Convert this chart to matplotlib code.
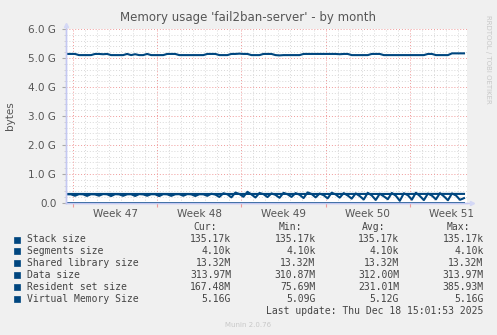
import numpy as np
import matplotlib
matplotlib.use("Agg")
from matplotlib import pyplot as plt
from matplotlib.patches import Rectangle

# time axis: days since Mon Nov 17 2025 (start of week 47)
week_labels = ["Week 47", "Week 48", "Week 49", "Week 50", "Week 51"]
week_starts = [0, 7, 14, 21, 28]

# resident set size in MB, one sample per 8 hours starting at day -0.5
rss_mb = [300, 298, 250, 305, 300, 245, 302, 296, 252, 308, 300, 240,
          304, 298, 248, 300, 302, 242, 306, 297, 251, 303, 300, 238,
          305, 299, 246, 301, 304, 250, 307, 298, 241, 302, 300, 247,
          320, 290, 210, 335, 300, 195, 360, 310, 215, 386, 295, 190,
          345, 305, 205, 330, 280, 180, 350, 300, 210, 340, 285, 170,
          365, 310, 195, 325, 270, 160, 355, 295, 185, 340, 260, 150,
          330, 240, 120, 350, 260, 105, 320, 230, 130, 345, 250, 76,
          335, 270, 115, 355, 240, 100, 325, 255, 125, 340, 230, 95,
          330, 260, 110, 168]

# virtual memory size in GB, same sampling
vms_gb = [5.14, 5.14, 5.14, 5.10, 5.10, 5.10, 5.10, 5.14, 5.14, 5.13, 5.14,
          5.10, 5.10, 5.10, 5.10, 5.14, 5.10, 5.13, 5.10, 5.10, 5.14, 5.10,
          5.10, 5.10, 5.10, 5.14, 5.14, 5.14, 5.10, 5.10, 5.10, 5.10, 5.10,
          5.10, 5.10, 5.14, 5.14, 5.14, 5.10, 5.10, 5.10, 5.14, 5.14, 5.15,
          5.14, 5.14, 5.10, 5.10, 5.10, 5.14, 5.14, 5.14, 5.10, 5.09, 5.10,
          5.10, 5.10, 5.10, 5.10, 5.14, 5.14, 5.14, 5.14, 5.14, 5.14, 5.14,
          5.14, 5.14, 5.13, 5.14, 5.14, 5.10, 5.10, 5.10, 5.10, 5.10, 5.14,
          5.14, 5.14, 5.10, 5.10, 5.10, 5.10, 5.10, 5.10, 5.10, 5.10, 5.10,
          5.10, 5.10, 5.14, 5.14, 5.10, 5.10, 5.10, 5.10, 5.16, 5.16, 5.16,
          5.16]

# data size in MB, one sample per day starting at day -0.5
data_mb = [312.5, 312.0, 311.5, 312.0, 312.5, 311.0, 311.5, 312.0, 312.5,
           311.8, 312.0, 311.2, 310.9, 311.5, 312.0, 312.3, 311.8, 312.0,
           312.6, 311.9, 312.1, 311.5, 312.2, 312.8, 313.0, 312.4, 311.6,
           312.0, 312.5, 313.2, 313.6, 313.9, 313.97, 313.97]

stack_size = 135.17e3
segments_size = 4.10e3
shared_lib = 13.32e6

legend_names = ["Stack size", "Segments size", "Shared library size",
                "Data size", "Resident set size", "Virtual Memory Size"]
cur_vals = ["135.17k", "4.10k", "13.32M", "313.97M", "167.48M", "5.16G"]
min_vals = ["135.17k", "4.10k", "13.32M", "310.87M", "75.69M", "5.09G"]
avg_vals = ["135.17k", "4.10k", "13.32M", "312.00M", "231.01M", "5.12G"]
max_vals = ["135.17k", "4.10k", "13.32M", "313.97M", "385.93M", "5.16G"]

y_ticks = [0, 1e9, 2e9, 3e9, 4e9, 5e9, 6e9]
y_labels = ["0.0", "1.0 G", "2.0 G", "3.0 G", "4.0 G", "5.0 G", "6.0 G"]

blue = "#00467f"
axis_col = "#c4c8f2"
txt_col = "#555555"
W, H = 497, 335

fig = plt.figure(figsize=(W / 100, H / 100), dpi=100, facecolor="#f0f0f0")
ax = fig.add_axes([66 / W, (H - 203) / H, (467 - 66) / W, (203 - 29) / H])
ax.set_facecolor("white")

x0, x1 = -0.58, 32.75
ax.set_xlim(x0, x1)
ax.set_ylim(0, 6e9)

# grid
for d in range(0, 33):
    if d in week_starts:
        continue
    ax.axvline(d, color="#d8d8d8", lw=0.7, ls=(0, (1, 2)), zorder=0)
for yv in np.arange(0.2e9, 6.0e9, 0.2e9):
    if abs(yv / 1e9 - round(yv / 1e9)) < 1e-6:
        continue
    ax.axhline(yv, color="#d8d8d8", lw=0.7, ls=(0, (1, 2)), zorder=0)
for d in week_starts:
    ax.axvline(d, color="#f09a9a", lw=0.7, ls=(0, (1, 2)), zorder=0.5)
for yv in y_ticks[1:]:
    ax.axhline(yv, color="#f09a9a", lw=0.7, ls=(0, (1, 2)), zorder=0.5)

# series
t8 = -0.5 + np.arange(len(rss_mb)) / 3.0
td = -0.5 + np.arange(len(data_mb))
tend = t8[-1]
ax.plot([-0.5, tend], [stack_size, stack_size], color=blue, lw=1.4, zorder=2)
ax.plot([-0.5, tend], [segments_size, segments_size], color=blue, lw=1.4, zorder=2)
ax.plot([-0.5, tend], [shared_lib, shared_lib], color=blue, lw=1.4, zorder=2)
ax.plot(td, np.array(data_mb) * 1e6, color=blue, lw=1.5, zorder=3)
ax.plot(t8, np.array(rss_mb) * 1e6, color=blue, lw=1.5, zorder=3)
ax.plot(t8, np.array(vms_gb) * 1e9, color=blue, lw=1.5, zorder=3)

# axes
for s in ["top", "right"]:
    ax.spines[s].set_visible(False)
for s in ["left", "bottom"]:
    ax.spines[s].set_color(axis_col)
    ax.spines[s].set_linewidth(1.0)
    ax.spines[s].set_zorder(5)
ax.plot([0, 1.012], [0, 0], color=axis_col, lw=1.0, transform=ax.transAxes,
        clip_on=False, zorder=5)
ax.plot([0, 0], [0, 1.025], color=axis_col, lw=1.0, transform=ax.transAxes,
        clip_on=False, zorder=5)
ax.plot([1.012], [0], marker=">", ms=3, color="#d4d8f6", transform=ax.transAxes,
        clip_on=False, zorder=5)
ax.plot([0], [1.025], marker="^", ms=3, color="#d4d8f6", transform=ax.transAxes,
        clip_on=False, zorder=5)

ax.set_xticks([w + 3.5 for w in week_starts])
ax.set_xticklabels(week_labels)
ax.set_xticks(week_starts, minor=True)
ax.tick_params(axis="x", which="major", length=0, pad=4, labelsize=7.5,
               labelcolor=txt_col)
ax.tick_params(axis="x", which="minor", length=3, color="#f09a9a", width=0.8)

ax.set_yticks(y_ticks)
ax.set_yticklabels(y_labels)
ax.set_yticks(np.arange(0.2e9, 6.0e9, 0.2e9), minor=True)
ax.tick_params(axis="y", which="major", length=3, color="#aaaaaa", pad=4,
               labelsize=7.5, labelcolor=txt_col)
ax.tick_params(axis="y", which="minor", length=1.5, color="#cccccc")

# texts
def ftext(x, y, s, **kw):
    fig.text(x / W, 1 - y / H, s, **kw)

ftext(248, 18, "Memory usage 'fail2ban-server' - by month", ha="center",
      va="center", fontsize=8.5, color=txt_col)
ftext(10, 116, "bytes", rotation=90, ha="center", va="center", fontsize=7.5,
      color=txt_col)
ftext(488, 15, "RRDTOOL / TOBI OETIKER", rotation=270, ha="center", va="top",
      fontsize=5, color="#c8c8c8")

mono = dict(family="DejaVu Sans Mono", fontsize=7, color="#444444", va="center")
ftext(217, 227, "Cur:", ha="right", **mono)
ftext(302, 227, "Min:", ha="right", **mono)
ftext(385, 227, "Avg:", ha="right", **mono)
ftext(470, 227, "Max:", ha="right", **mono)
for i, name in enumerate(legend_names):
    y = 239.5 + i * 11.9
    fig.patches.append(Rectangle((14 / W, 1 - (y + 3) / H), 6 / W, 6 / H,
                                 transform=fig.transFigure, facecolor=blue,
                                 edgecolor=blue, lw=0.5))
    ftext(27, y, name, ha="left", **mono)
    ftext(231, y, cur_vals[i], ha="right", **mono)
    ftext(315.5, y, min_vals[i], ha="right", **mono)
    ftext(399, y, avg_vals[i], ha="right", **mono)
    ftext(483.5, y, max_vals[i], ha="right", **mono)
ftext(483, 311, "Last update: Thu Dec 18 15:01:53 2025", ha="right", **mono)
ftext(248, 325, "Munin 2.0.76", ha="center", va="center", fontsize=5,
      color="#c8c8c8")

fig.savefig("out.png", dpi=100, facecolor=fig.get_facecolor())
